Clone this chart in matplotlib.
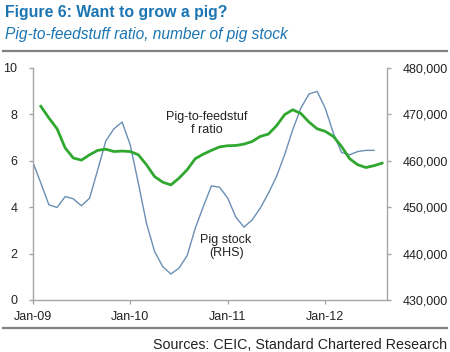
import numpy as np
import matplotlib
matplotlib.use("Agg")
import matplotlib.pyplot as plt
from matplotlib.lines import Line2D

plt.rcParams["font.family"] = ["Liberation Sans", "DejaVu Sans"]

# monthly series, Jan-09 = month 0
ratio_start = 1   # Feb-09
pig_to_feed = [8.35, 7.84, 7.38, 6.55, 6.12, 6.03, 6.26, 6.45, 6.50, 6.40, 6.42,
               6.40, 6.26, 5.83, 5.32, 5.08, 4.96, 5.25, 5.61, 6.09, 6.29, 6.45, 6.60,
               6.65, 6.66, 6.72, 6.83, 7.05, 7.15, 7.51, 7.99, 8.20, 8.04, 7.67, 7.38,
               7.27, 7.05, 6.62, 6.09, 5.83, 5.71, 5.79, 5.90]

stock_start = 0   # Jan-09
pig_stock = [459800, 455200, 450500, 449950, 452300, 451800, 450300, 451950,
             458050, 464300, 466900, 468350, 463450, 455200, 446550, 440450,
             437200, 435600, 436850, 439550, 445450, 450150, 454600, 454300,
             451950, 447850, 445700, 447250, 449800, 453000, 456600, 461300,
             466700, 471350, 474400, 474950, 471350, 465950, 461800, 461300,
             462000, 462250, 462250]

tick_months = [0, 12, 24, 36]
tick_labels = ["Jan-09", "Jan-10", "Jan-11", "Jan-12"]

title = "Figure 6: Want to grow a pig?"
subtitle = "Pig-to-feedstuff ratio, number of pig stock"
source = "Sources: CEIC, Standard Chartered Research"

blue_txt = "#1b75b3"
grey = "#a6a6a6"
txt_col = "#222222"

fig = plt.figure(figsize=(4.5, 3.52), dpi=100)
ax = fig.add_axes([32.7 / 450, 1 - 300 / 352, (387 - 32.7) / 450, (300 - 68) / 352])
ax2 = ax.twinx()

x_ratio = np.arange(len(pig_to_feed)) + ratio_start
x_stock = np.arange(len(pig_stock)) + stock_start

ax2.plot(x_stock, pig_stock, color="#6a8fb5", lw=1.0, zorder=2)
ax.plot(x_ratio, pig_to_feed, color="#30a830", lw=2.0, zorder=3)
ax.set_zorder(ax2.get_zorder() + 1)
ax.patch.set_visible(False)

ax.set_xlim(0, 43.6)
ax.set_ylim(0, 10)
ax.set_yticks([0, 2, 4, 6, 8, 10])
ax2.set_ylim(430000, 480000)
ax2.set_yticks(range(430000, 480001, 10000))
ax2.set_yticklabels([f"{v:,}" for v in range(430000, 480001, 10000)])
ax.set_xticks(tick_months)
ax.set_xticklabels(tick_labels)

for a in (ax, ax2):
    for s in a.spines.values():
        s.set_color(grey)
        s.set_linewidth(1.0)
    a.spines["top"].set_visible(False)
    a.tick_params(colors=grey, labelcolor=txt_col, labelsize=9, length=3, width=1)
ax.spines["right"].set_visible(False)
ax2.spines["left"].set_visible(False)
ax2.spines["bottom"].set_visible(False)
ax.tick_params(axis="y", pad=8)
ax2.tick_params(axis="y", pad=8)
ax.tick_params(axis="x", pad=5)

ax.text(21.4, 7.6, "Pig-to-feedstuf\nf ratio", ha="center", va="center",
        fontsize=9, color=txt_col, linespacing=1.15)
ax.text(23.8, 2.3, "Pig stock\n(RHS)", ha="center", va="center",
        fontsize=9, color=txt_col, linespacing=1.15)

fig.text(5 / 450, 1 - 12 / 352, title, fontsize=11.4, fontweight="bold",
         color=blue_txt, va="center", ha="left")
fig.text(5 / 450, 1 - 35 / 352, subtitle, fontsize=11.2, style="italic",
         color=blue_txt, va="center", ha="left")
fig.text(447 / 450, 1 - 345 / 352, source, fontsize=10.3, color=txt_col,
         va="center", ha="right")

for yy in (50.7, 328):
    fig.add_artist(Line2D([3 / 450, 447 / 450], [1 - yy / 352, 1 - yy / 352],
                          transform=fig.transFigure, color="#808080", lw=1.6))

fig.savefig("out.png", dpi=100)
